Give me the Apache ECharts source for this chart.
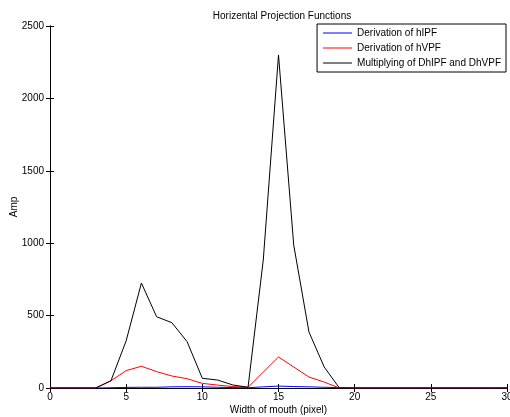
<!DOCTYPE html>
<html>
<head>
  <meta charset="utf-8">
  <title>Horizental Projection Functions</title>
  <script src="https://cdn.jsdelivr.net/npm/echarts@6/dist/echarts.min.js"></script>
</head>
<body style="margin:0">
  <div id="main" style="width:510px;height:417px;"></div>
  <script type="text/javascript">
    // width of mouth (pixel) positions
    var xs = [0, 1, 2, 3, 4, 5, 6, 7, 8, 9, 10, 11, 12, 13, 14, 15, 16, 17, 18, 19, 20, 21, 22, 23, 24, 25, 26, 27, 28, 29, 30];
    var dhIPF = [0, 0, 0, 0, 2, 4, 5, 5, 8, 9, 8, 5, 3, 2, 8, 13, 10, 8, 5, 2, 0, 0, 0, 0, 0, 0, 0, 0, 0, 0, 0];
    var dhVPF = [0, 0, 0, 0, 50, 120, 150, 113, 83, 64, 32, 20, 10, 5, 110, 214, 145, 76, 41, 0, 0, 0, 0, 0, 0, 0, 0, 0, 0, 0, 0];
    var product = [0, 0, 0, 0, 50, 326, 725, 492, 451, 320, 67, 55, 21, 5, 884, 2300, 987, 387, 145, 0, 0, 0, 0, 0, 0, 0, 0, 0, 0, 0, 0];
    var names = ['Derivation of hIPF', 'Derivation of hVPF', 'Multiplying of DhIPF and DhVPF'];

    function pairs(ys) {
      return xs.map(function (x, i) { return [x, ys[i]]; });
    }

    var font = 'Liberation Sans, Arial, sans-serif';
    var myChart = echarts.init(document.getElementById('main'));

    function lineSeries(name, ys, color) {
      return {
        name: name,
        type: 'line',
        symbol: 'none',
        data: pairs(ys),
        lineStyle: { color: color, width: 1 },
        itemStyle: { color: color },
        animation: false
      };
    }

    var option = {
      backgroundColor: '#fff',
      title: {
        text: 'Horizental Projection Functions',
        left: 277,
        textAlign: 'center',
        top: 6,
        textStyle: { fontFamily: font, fontSize: 10, fontWeight: 'normal', color: '#000' }
      },
      legend: {
        data: names,
        orient: 'vertical',
        right: 4,
        top: 24,
        padding: [3, 5, 3, 6],
        itemGap: 3,
        icon: 'rect',
        itemWidth: 29,
        itemHeight: 1,
        borderColor: '#000',
        borderWidth: 1,
        backgroundColor: '#fff',
        textStyle: { fontFamily: font, fontSize: 10, color: '#000', lineHeight: 12 }
      },
      grid: { left: 50, right: 3, top: 26, bottom: 29, containLabel: false, outerBoundsMode: 'none' },
      xAxis: [{
        type: 'value',
        min: 0, max: 30, interval: 5,
        name: 'Width of mouth (pixel)',
        nameLocation: 'middle',
        nameGap: 17,
        nameMoveOverlap: false,
        nameTextStyle: { fontFamily: font, fontSize: 10, color: '#000' },
        axisLine: { lineStyle: { color: '#000', width: 1 } },
        axisTick: { inside: true, length: 4, lineStyle: { color: '#000' } },
        axisLabel: { fontFamily: font, fontSize: 10, color: '#000', margin: 4 },
        splitLine: { show: false }
      }, {
        type: 'value',
        position: 'top',
        min: 0, max: 30, interval: 5,
        axisLine: { lineStyle: { color: '#000', width: 1 } },
        axisTick: { inside: true, length: 4, lineStyle: { color: '#000' } },
        axisLabel: { show: false },
        splitLine: { show: false }
      }],
      yAxis: [{
        type: 'value',
        min: 0, max: 2500, interval: 500,
        name: 'Amp',
        nameLocation: 'middle',
        nameGap: 31,
        nameMoveOverlap: false,
        nameTextStyle: { fontFamily: font, fontSize: 10, color: '#000' },
        axisLine: { show: true, lineStyle: { color: '#000', width: 1 } },
        axisTick: { show: true, inside: true, length: 4, lineStyle: { color: '#000' } },
        axisLabel: {
          fontFamily: font, fontSize: 10, color: '#000', margin: 6,
          formatter: function (v) { return String(v); }
        },
        splitLine: { show: false }
      }, {
        type: 'value',
        position: 'right',
        min: 0, max: 2500, interval: 500,
        axisLine: { show: true, lineStyle: { color: '#000', width: 1 } },
        axisTick: { show: true, inside: true, length: 4, lineStyle: { color: '#000' } },
        axisLabel: { show: false },
        splitLine: { show: false }
      }],
      series: [
        lineSeries(names[0], dhIPF, '#0000ff'),
        lineSeries(names[1], dhVPF, '#ff0000'),
        lineSeries(names[2], product, '#000000')
      ]
    };

    myChart.setOption(option);
  </script>
</body>
</html>
